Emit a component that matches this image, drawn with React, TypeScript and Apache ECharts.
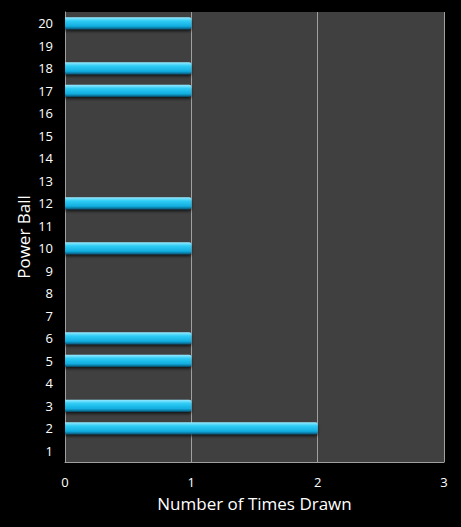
import { useEffect, useRef } from 'react'
import * as echarts from 'echarts'

const balls = ['1', '2', '3', '4', '5', '6', '7', '8', '9', '10', '11', '12', '13', '14', '15', '16', '17', '18', '19', '20']
const timesDrawn = [0, 2, 1, 0, 1, 1, 0, 0, 0, 1, 0, 1, 0, 0, 0, 0, 1, 1, 0, 1]
const xTicks = [0, 1, 2, 3]

export default function App() {
  const ref = useRef<HTMLDivElement>(null)

  useEffect(() => {
    if (!ref.current) return
    const chart = echarts.init(ref.current, undefined, { renderer: 'svg' })
    const font = '"Open Sans", "DejaVu Sans", sans-serif'
    chart.setOption({
      animation: false,
      backgroundColor: '#000000',
      textStyle: { fontFamily: font },
      grid: { left: 65, right: 17, top: 12, bottom: 65, show: true, backgroundColor: '#404040', borderWidth: 0 },
      xAxis: {
        type: 'value', min: xTicks[0], max: xTicks[xTicks.length - 1], interval: 1,
        name: 'Number of Times Drawn', nameLocation: 'middle', nameGap: 33,
        nameTextStyle: { color: '#ffffff', fontSize: 17, fontFamily: font },
        axisLine: { show: true, lineStyle: { color: '#a0a0a0', width: 1 } },
        axisTick: { show: false },
        axisLabel: { color: '#ffffff', fontSize: 13, margin: 13, fontFamily: font },
        splitLine: { show: true, lineStyle: { color: '#a0a0a0', width: 1 } },
      },
      yAxis: {
        type: 'category', data: balls,
        name: 'Power Ball', nameLocation: 'middle', nameGap: 33, nameRotate: 90,
        nameMoveOverlap: false,
        nameTextStyle: { color: '#ffffff', fontSize: 17, fontFamily: font },
        axisLine: { show: true, lineStyle: { color: '#a0a0a0', width: 1 } },
        axisTick: { show: false },
        axisLabel: { color: '#ffffff', fontSize: 13, margin: 12, fontFamily: font },
      },
      series: [
        {
          type: 'bar', data: timesDrawn, barWidth: 12,
          itemStyle: {
            color: new echarts.graphic.LinearGradient(0, 0, 0, 1, [
              { offset: 0, color: '#9aeaff' },
              { offset: 0.3, color: '#30cdf5' },
              { offset: 0.75, color: '#12addf' },
              { offset: 1, color: '#05577a' },
            ]),
            shadowColor: 'rgba(0,0,0,0.7)', shadowBlur: 3, shadowOffsetY: 2,
            borderRadius: [0, 2, 2, 0],
          },
        },
      ],
    })
    return () => chart.dispose()
  }, [])

  return <div ref={ref} style={{ position: 'absolute', left: 0, top: 0, width: 461, height: 527 }} />
}
